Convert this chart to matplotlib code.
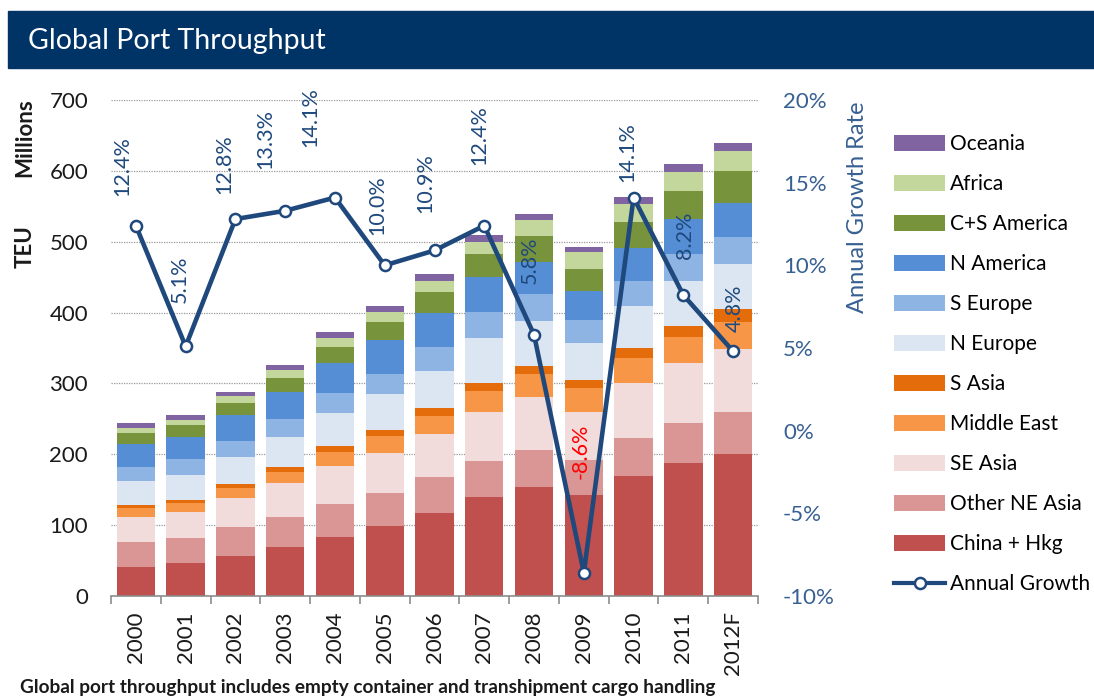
import numpy as np
import matplotlib
matplotlib.use("Agg")
import matplotlib.pyplot as plt
from matplotlib.patches import Rectangle, Patch
from matplotlib.lines import Line2D

plt.rcParams['font.family'] = ['Lato', 'DejaVu Sans']

years = ["2000", "2001", "2002", "2003", "2004", "2005", "2006",
         "2007", "2008", "2009", "2010", "2011", "2012F"]

# TEU millions per region (bottom to top)
china_hkg = [41, 46, 56, 69, 83, 99, 117, 140, 154, 142, 170, 188, 200]
other_ne_asia = [35, 36, 41, 42, 47, 46, 51, 50, 52, 50, 53, 56, 59]
se_asia = [35, 36, 41, 48, 53, 57, 60, 70, 75, 67, 77, 85, 89]
middle_east = [13, 13, 14, 16, 20, 24, 26, 29, 32, 34, 36, 37, 38]
s_asia = [4, 4, 6, 7, 9, 8, 11, 11, 12, 12, 14, 15, 19]
n_europe = [34, 36, 38, 42, 46, 51, 52, 64, 63, 52, 59, 63, 63]
s_europe = [20, 22, 23, 26, 28, 29, 34, 37, 38, 33, 35, 38, 39]
n_america = [32, 32, 36, 38, 43, 47, 48, 49, 45, 40, 47, 50, 47]
cs_america = [16, 16, 17, 19, 22, 26, 30, 32, 37, 32, 37, 39, 46]
africa = [7, 8, 10, 12, 13, 14, 15, 17, 22, 23, 25, 27, 28]
oceania = [7, 7, 6, 7, 8, 8, 10, 10, 9, 8, 10, 11, 11]

growth = [12.4, 5.1, 12.8, 13.3, 14.1, 10.0, 10.9, 12.4, 5.8, -8.6, 14.1, 8.2, 4.8]

# where each growth label sits relative to its marker (pixels)
label_dx = [-14, -6, -11, -20, -25, -7, -9, -5, -4, -3, -6, 2, 2]
label_dy = [30, 43, 25, 42, 51, 30, 37, 61, 51, 94, 16, 36, 19]

series = [
    ("China + Hkg", china_hkg, "#C0504D"),
    ("Other NE Asia", other_ne_asia, "#D99694"),
    ("SE Asia", se_asia, "#F2DCDB"),
    ("Middle East", middle_east, "#F79646"),
    ("S Asia", s_asia, "#E46C0A"),
    ("N Europe", n_europe, "#DCE6F2"),
    ("S Europe", s_europe, "#8EB4E3"),
    ("N America", n_america, "#558ED5"),
    ("C+S America", cs_america, "#77933C"),
    ("Africa", africa, "#C3D69B"),
    ("Oceania", oceania, "#8064A2"),
]

navy = "#1F497D"
axis_blue = "#376092"
dark = "#1a1a1a"

fig = plt.figure(figsize=(10.94, 6.96), dpi=100)

# title banner
fig.patches.append(Rectangle((8 / 1094, 1 - 68 / 696), 1.0, 57 / 696,
                             transform=fig.transFigure, color="#003366", zorder=0))
fig.text(28 / 1094, 1 - 41 / 696, "Global Port Throughput", color="white",
         fontsize=20.5, va="center", ha="left")

ax = fig.add_axes([111 / 1094, 1 - 596 / 696, 647 / 1094, 496 / 696])
x = np.arange(len(years))
bottom = np.zeros(len(years))
handles = []
for name, vals, col in series:
    ax.bar(x, vals, width=0.77, bottom=bottom, color=col, zorder=2)
    bottom += np.array(vals)
    handles.append(Patch(facecolor=col, label=name))

ax.set_xlim(-0.5, len(years) - 0.5)
ax.set_ylim(0, 700)
ax.set_yticks(range(0, 701, 100))
ax.yaxis.grid(True, linestyle=(0, (1, 1)), color="#9a9a9a", linewidth=0.9, zorder=0)
ax.set_axisbelow(True)
for s in ["left", "right", "top"]:
    ax.spines[s].set_visible(False)
ax.spines["bottom"].set_color("#8c8c8c")
ax.spines["bottom"].set_linewidth(1.2)
ax.tick_params(axis="y", length=0, labelsize=16, pad=16.5, labelcolor=dark)
ax.set_xticks(x)
ax.set_xticklabels(years, rotation=90, fontsize=16, color=dark)
ax.set_xticks(np.arange(-0.5, len(years)), minor=True)
ax.tick_params(axis="x", which="major", length=0, pad=11)
ax.tick_params(axis="x", which="minor", length=6, color="#8c8c8c", width=1.2)

fig.text(25 / 1094, 1 - 138 / 696, "Millions", rotation=90, fontsize=16,
         fontweight="bold", va="center", ha="center", color=dark)
fig.text(25 / 1094, 1 - 247 / 696, "TEU", rotation=90, fontsize=16,
         fontweight="bold", va="center", ha="center", color=dark)

ax2 = ax.twinx()
ax2.set_ylim(-10, 20)
ax2.set_yticks(range(-10, 21, 5))
ax2.set_yticklabels([f"{v}%" for v in range(-10, 21, 5)])
ax2.tick_params(axis="y", length=0, labelsize=16, pad=18, labelcolor=axis_blue)
for s in ["left", "right", "top", "bottom"]:
    ax2.spines[s].set_visible(False)
ax2.plot(x, growth, color=navy, linewidth=3.3, marker="o", markersize=8,
         markerfacecolor="white", markeredgecolor=navy, markeredgewidth=1.8, zorder=5)
for xi, g, dx, dy in zip(x, growth, label_dx, label_dy):
    ax2.annotate(f"{g:.1f}%", (xi, g), xytext=(dx, dy), textcoords="offset pixels",
                 rotation=90, ha="center", va="bottom", fontsize=15.5, zorder=6,
                 color="red" if g < 0 else navy)

fig.text(857 / 1094, 1 - 207 / 696, "Annual Growth Rate", rotation=90, fontsize=17,
         va="center", ha="center", color=axis_blue)

handles = handles[::-1]
handles.append(Line2D([0], [0], color=navy, linewidth=3, marker="o", markersize=8,
                      markerfacecolor="white", markeredgecolor=navy,
                      markeredgewidth=1.8, label="Annual Growth"))
fig.legend(handles=handles, loc="upper left", bbox_to_anchor=(886 / 1094, 1 - 126 / 696),
           frameon=False, fontsize=15, handlelength=2.45, handleheight=0.77,
           labelspacing=0.96, handletextpad=0.24, borderaxespad=0)

fig.text(20 / 1094, 1 - 688 / 696,
         "Global port throughput includes empty container and transhipment cargo handling",
         fontsize=13.7, fontweight="bold", va="center", ha="left", color=dark)

fig.savefig("out.png", dpi=100)
